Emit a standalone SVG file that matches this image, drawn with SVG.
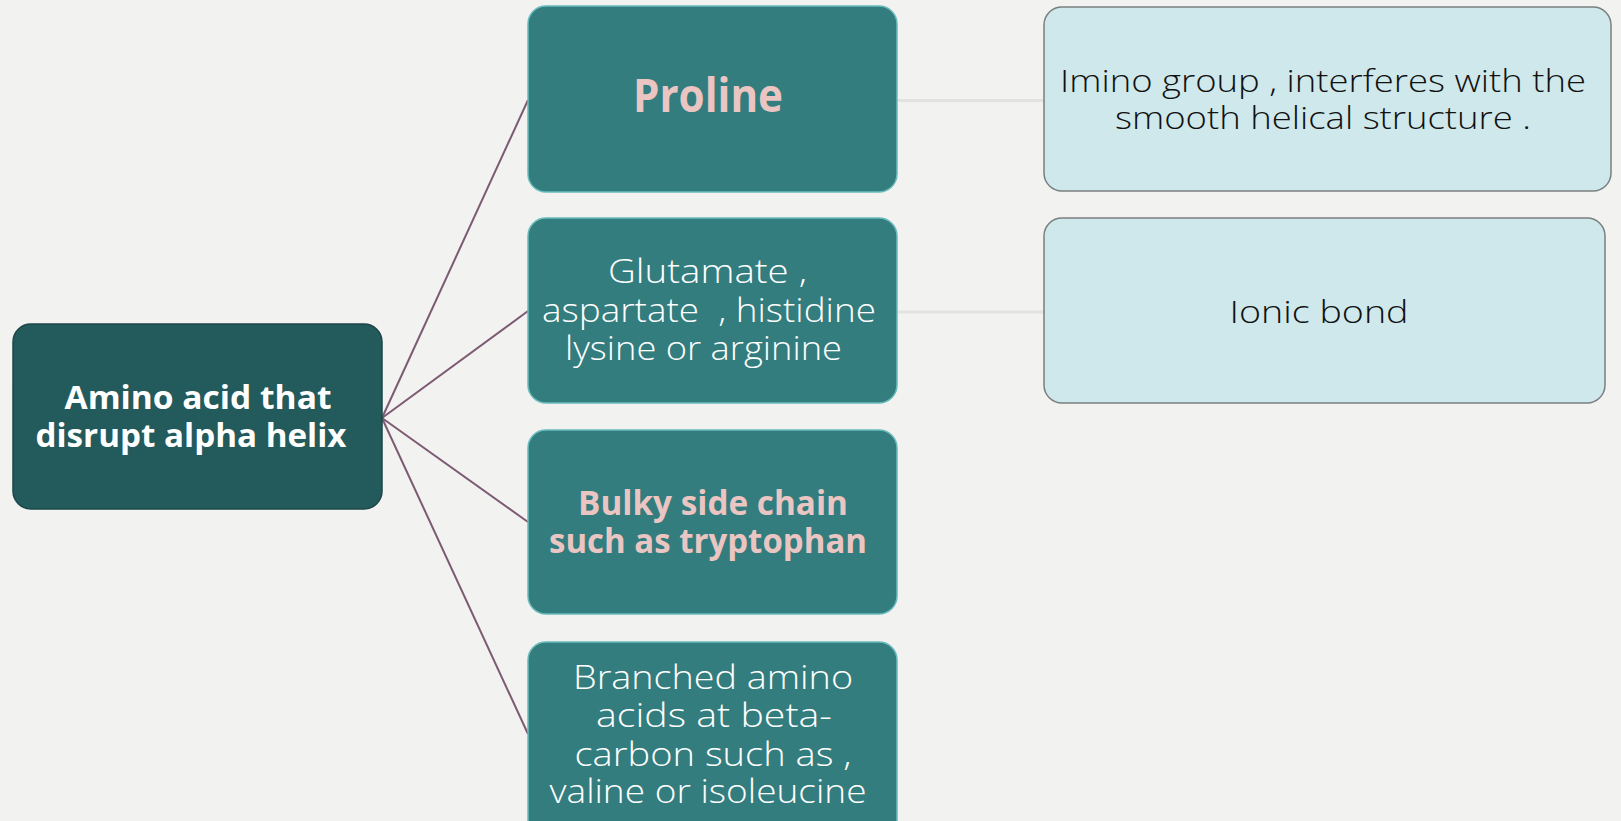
<svg xmlns="http://www.w3.org/2000/svg" width="1621" height="821" viewBox="0 0 1621 821">
  <style>
    .root { fill: #235a5b; stroke: #1c4647; stroke-width: 1.5; }
    .mid { fill: #337d7e; stroke: #6abcbc; stroke-width: 1.5; }
    .leaf { fill: #cfe8eb; stroke: #7a7f80; stroke-width: 1.5; }
    .branch { stroke: #7c5a72; stroke-width: 2; fill: none; }
    .link { stroke: #e2e2e0; stroke-width: 3; fill: none; }
    text { font-family: "Open Sans", "Liberation Sans", sans-serif; text-anchor: middle; }
    .t-root { fill: #ffffff; font-weight: 700; font-size: 33px; }
    .t-pink { fill: #ebc5c2; font-weight: 700; }
    .t-white { fill: #ffffff; font-size: 33px; font-weight: 300; }
    .t-dark { fill: #111111; font-size: 32px; font-weight: 300; }
  </style>

  <rect x="0" y="0" width="1621" height="821" fill="#f2f2f0"/>

  <!-- connectors -->
  <g id="connectors">
    <line class="branch" x1="382" y1="418" x2="528" y2="100"/>
    <line class="branch" x1="382" y1="418" x2="528" y2="311"/>
    <line class="branch" x1="382" y1="418" x2="528" y2="522"/>
    <line class="branch" x1="382" y1="418" x2="528" y2="734"/>
    <line class="link" x1="897" y1="100.5" x2="1044" y2="100.5"/>
    <line class="link" x1="897" y1="312" x2="1044" y2="312"/>
  </g>

  <!-- root -->
  <g id="root">
    <rect class="root" x="13" y="324" width="369" height="185" rx="18"/>
    <text class="t-root" x="198" y="409" textLength="267" lengthAdjust="spacingAndGlyphs">Amino acid that</text>
    <text class="t-root" x="191" y="447" textLength="311" lengthAdjust="spacingAndGlyphs">disrupt alpha helix</text>
  </g>

  <!-- second level -->
  <g id="proline">
    <rect class="mid" x="528" y="6" width="369" height="186" rx="18"/>
    <text class="t-pink" x="708" y="112" font-size="47" textLength="150" lengthAdjust="spacingAndGlyphs">Proline</text>
  </g>

  <g id="charged">
    <rect class="mid" x="528" y="218" width="369" height="185" rx="18"/>
    <text class="t-white" x="707.5" y="283" textLength="199" lengthAdjust="spacingAndGlyphs">Glutamate ,</text>
    <text class="t-white" x="709" y="322" xml:space="preserve" textLength="334" lengthAdjust="spacingAndGlyphs">aspartate  , histidine</text>
    <text class="t-white" x="703.5" y="360" textLength="277" lengthAdjust="spacingAndGlyphs">lysine or arginine</text>
  </g>

  <g id="bulky">
    <rect class="mid" x="528" y="430" width="369" height="184" rx="18"/>
    <text class="t-pink" x="713" y="515" font-size="34" textLength="270" lengthAdjust="spacingAndGlyphs">Bulky side chain</text>
    <text class="t-pink" x="708" y="553" font-size="34" textLength="318" lengthAdjust="spacingAndGlyphs">such as tryptophan</text>
  </g>

  <g id="branched">
    <rect class="mid" x="528" y="642" width="369" height="200" rx="18"/>
    <text class="t-white" x="713" y="689" textLength="280" lengthAdjust="spacingAndGlyphs">Branched amino</text>
    <text class="t-white" x="714" y="727" textLength="236" lengthAdjust="spacingAndGlyphs">acids at beta-</text>
    <text class="t-white" x="713" y="766" textLength="277" lengthAdjust="spacingAndGlyphs">carbon such as ,</text>
    <text class="t-white" x="708" y="803" textLength="317" lengthAdjust="spacingAndGlyphs">valine or isoleucine</text>
  </g>

  <!-- third level -->
  <g id="imino">
    <rect class="leaf" x="1044" y="7" width="567" height="184" rx="18"/>
    <text class="t-dark" x="1323" y="92" textLength="526" lengthAdjust="spacingAndGlyphs">Imino group , interferes with the</text>
    <text class="t-dark" x="1323" y="129" textLength="416" lengthAdjust="spacingAndGlyphs">smooth helical structure .</text>
  </g>

  <g id="ionic">
    <rect class="leaf" x="1044" y="218" width="561" height="185" rx="18"/>
    <text class="t-dark" x="1319" y="323" textLength="179" lengthAdjust="spacingAndGlyphs">Ionic bond</text>
  </g>
</svg>
